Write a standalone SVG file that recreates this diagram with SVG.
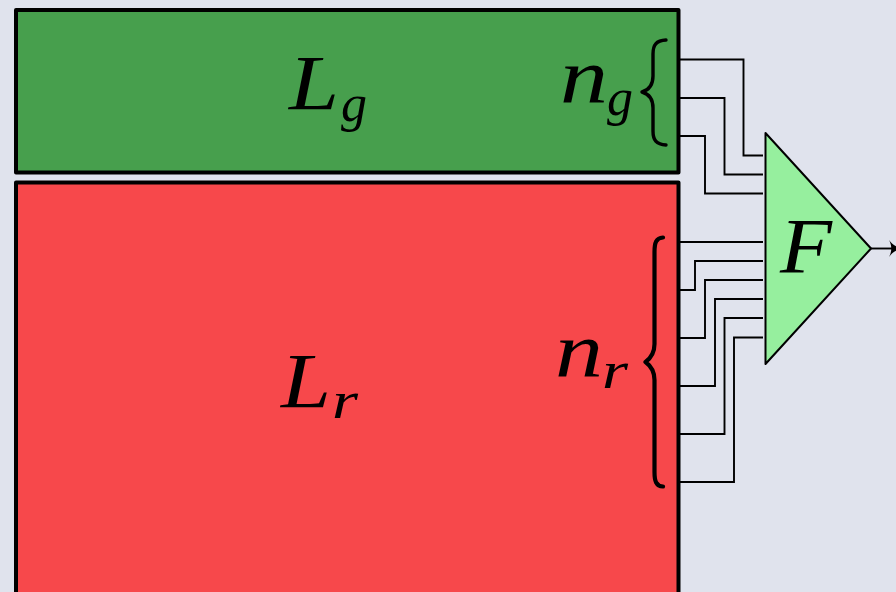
<svg xmlns="http://www.w3.org/2000/svg" width="896" height="592" viewBox="0 0 896 592">
<style>
.block{stroke:#000;stroke-width:4;stroke-linejoin:round}
.wire{fill:none;stroke:#000;stroke-width:1.9}
.brace{fill:none;stroke:#000;stroke-linecap:round;stroke-linejoin:round}
text{font-family:"Liberation Serif","Times New Roman",serif;font-style:italic;fill:#000}
.big{font-size:78px}
.sub{font-size:52px}
</style>
<defs>
<marker id="arrow" markerUnits="userSpaceOnUse" markerWidth="16" markerHeight="20" refX="7" refY="10" orient="auto">
<path d="M0 1.500C3 6 8 9 14 10C8 11 3 14 0 18.500C3 13 3 7 0 1.500Z" fill="#000"/>
</marker>
</defs>
<rect width="896" height="592" fill="#e0e3ed"/>
<g id="connectors">
<path class="wire" d="M678 59.500H743.500V155.500H763"/>
<path class="wire" d="M678 98H724.500V174.500H763"/>
<path class="wire" d="M678 136H705V193.500H763"/>
<path class="wire" d="M678 242H763"/>
<path class="wire" d="M678 290H695V261H763"/>
<path class="wire" d="M678 338H705V280H763"/>
<path class="wire" d="M678 386H715V299H763"/>
<path class="wire" d="M678 434H724.500V318H763"/>
<path class="wire" d="M678 482H734V337.500H763"/>
<path class="wire" d="M871 248.500H896" marker-end="url(#arrow)"/>
</g>
<g id="Lg">
<rect class="block" x="16" y="10" width="662.500" height="162.500" fill="#479f4d"/>
<text class="big" x="289" y="109" textLength="50" lengthAdjust="spacingAndGlyphs">L</text>
<text class="sub" x="341" y="120.500">g</text>
<text class="big" x="560" y="103" textLength="48" lengthAdjust="spacingAndGlyphs">n</text>
<text class="sub" x="607" y="114.500">g</text>
<path class="brace" stroke-width="3.400" d="M666 40C656 40.500 653 45 653 54V76C653 84 649 90 642 92C649 94 653 100 653 108V131C653 140 656 144.500 666 145"/>
</g>
<g id="Lr">
<rect class="block" x="16" y="182.500" width="662.500" height="430" fill="#f7484b"/>
<text class="big" x="281" y="407" textLength="50" lengthAdjust="spacingAndGlyphs">L</text>
<text class="sub" x="332" y="418" textLength="26" lengthAdjust="spacingAndGlyphs">r</text>
<text class="big" x="555" y="377" textLength="48" lengthAdjust="spacingAndGlyphs">n</text>
<text class="sub" x="602" y="388" textLength="26" lengthAdjust="spacingAndGlyphs">r</text>
<path class="brace" stroke-width="4.200" d="M663 237.500C656 238 654.500 243 654.500 252V344C654.500 352 651 358 645.500 362C651 366 654.500 372 654.500 380V472C654.500 481 656 486 663 486.500"/>
</g>
<g id="F">
<path d="M765.500 133L871 248.500L765.500 364Z" fill="#96ef9e" stroke="#000" stroke-width="2" stroke-linejoin="round"/>
<text class="big" x="780" y="272" textLength="52" lengthAdjust="spacingAndGlyphs">F</text>
</g>
</svg>
